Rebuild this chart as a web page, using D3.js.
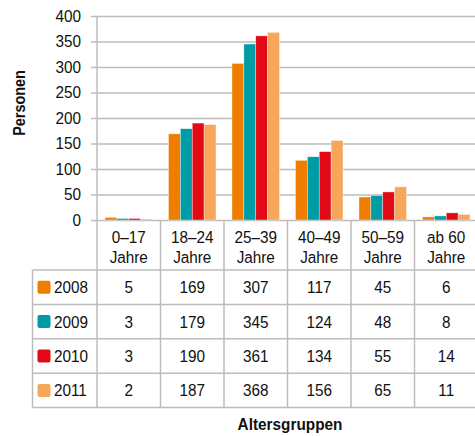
<!DOCTYPE html>
<html>
<head>
<meta charset="utf-8">
<script src="https://cdn.jsdelivr.net/npm/d3@7"></script>
<style>
  body { margin: 0; background: #fff; }
  svg text { font-family: "Liberation Sans", Arial, sans-serif; fill: #111; }
</style>
</head>
<body>
<svg id="chart" width="475" height="436"></svg>
<script>
// data
const categories = ['0–17|Jahre', '18–24|Jahre', '25–39|Jahre', '40–49|Jahre', '50–59|Jahre', 'ab 60|Jahre'];
const years = ['2008', '2009', '2010', '2011'];
const v2008 = [5, 169, 307, 117, 45, 6];
const v2009 = [3, 179, 345, 124, 48, 8];
const v2010 = [3, 190, 361, 134, 55, 14];
const v2011 = [2, 187, 368, 156, 65, 11];
const yTicks = [0, 50, 100, 150, 200, 250, 300, 350, 400];
const colors = ['#ef7d00', '#009ca6', '#e30a17', '#f6a75c'];

const series = [v2008, v2009, v2010, v2011];

const svg = d3.select('#chart');
const [pLeft, pRight, pTop, pBottom] = [97, 478, 16, 220];
const headerH = 50, rowH = 34.4, tableLeft = 32.5;
const grid = '#bcbcbc';
const fs = '17px';
const sx = 0.9; // fake a condensed face

// text placed at (tx,ty) and squeezed horizontally
const label = (tx, ty, str, anchor) => svg.append('text')
  .attr('transform', `translate(${tx},${ty}) scale(${sx},1)`)
  .attr('text-anchor', anchor || 'middle').style('font-size', fs).text(str);

const y = d3.scaleLinear().domain([0, 400]).range([pBottom, pTop]);
const x = d3.scaleBand().domain(categories).range([pLeft, pRight]);
const xi = d3.scaleBand().domain(years).range([8, x.bandwidth() - 8]);

// gridlines + y axis
const yAxis = d3.axisLeft(y).tickValues(yTicks).tickSize(0);
const gy = svg.append('g').attr('transform', `translate(${pLeft - 6},0)`).call(yAxis);
gy.select('.domain').remove();
gy.selectAll('.tick line').attr('x1', 0).attr('x2', pRight - pLeft + 6)
  .attr('stroke', grid).attr('stroke-width', 1.5);
gy.selectAll('.tick text').attr('x', -10 / sx).attr('transform', `scale(${sx},1)`)
  .style('font-size', fs).attr('fill', '#111');

// bars
const groups = svg.append('g').selectAll('g').data(categories).join('g')
  .attr('transform', d => `translate(${x(d)},0)`);
groups.selectAll('rect').data((d, i) => years.map((yr, j) => ({yr, v: series[j][i], c: colors[j]}))).join('rect')
  .attr('x', d => xi(d.yr))
  .attr('width', xi.bandwidth())
  .attr('y', d => y(d.v))
  .attr('height', d => y(0) - y(d.v))
  .attr('fill', d => d.c)
  .attr('stroke', '#fff').attr('stroke-opacity', 0.6).attr('stroke-width', 0.6);

// table lines
const tableBottom = pBottom + headerH + rowH * years.length;
const lines = svg.append('g').attr('stroke', grid).attr('stroke-width', 1.5);
lines.append('line').attr('x1', pLeft).attr('x2', pLeft).attr('y1', pTop).attr('y2', tableBottom);
categories.forEach(c => {
  const xr = x(c) + x.bandwidth();
  lines.append('line').attr('x1', xr).attr('x2', xr).attr('y1', pBottom).attr('y2', tableBottom);
});
lines.append('line').attr('x1', tableLeft).attr('x2', tableLeft).attr('y1', pBottom + headerH).attr('y2', tableBottom);
d3.range(years.length + 1).forEach(i => {
  const yy = pBottom + headerH + i * rowH;
  lines.append('line').attr('x1', tableLeft).attr('x2', pRight).attr('y1', yy).attr('y2', yy);
});

// header labels
categories.forEach(c => {
  c.split('|').forEach((s, k) => label(x(c) + x.bandwidth() / 2, 243 + k * 20, s));
});

// legend column + values
years.forEach((yr, j) => {
  const cy = pBottom + headerH + j * rowH + rowH / 2;
  svg.append('rect').attr('x', 37.5).attr('y', cy - 6.5).attr('width', 13).attr('height', 13)
    .attr('rx', 2).attr('fill', colors[j]);
  label(54, cy + 6, yr, 'start');
  categories.forEach((c, i) => label(x(c) + x.bandwidth() / 2, cy + 6, series[j][i]));
});

// axis titles
svg.append('text').attr('transform', `translate(25,103) rotate(-90) scale(${sx},1)`)
  .attr('text-anchor', 'middle').style('font-size', '16px').style('font-weight', 'bold').text('Personen');
svg.append('text').attr('transform', `translate(290,430) scale(0.93,1)`).attr('text-anchor', 'middle')
  .style('font-size', '16.5px').style('font-weight', 'bold').text('Altersgruppen');
</script>
</body>
</html>
